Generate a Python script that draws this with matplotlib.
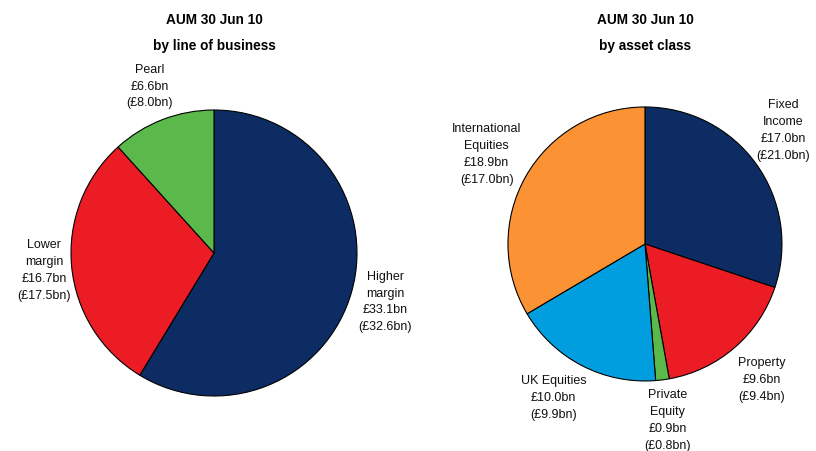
import numpy as np
import matplotlib
matplotlib.use('Agg')
import matplotlib.pyplot as plt

plt.rcParams['font.family'] = ['Liberation Sans', 'DejaVu Sans']

# AUM by line of business (clockwise from 12 o'clock)
business_names = ['Higher\nmargin', 'Lower\nmargin', 'Pearl']
business_now = [33.1, 16.7, 6.6]
business_prev = [32.6, 17.5, 8.0]
business_colors = ['#0c2c63', '#ec1c24', '#5bb84a']
business_dist = [1.245, 1.195, 1.255]

# AUM by asset class
asset_names = ['Fixed\nIncome', 'Property', 'Private\nEquity', 'UK Equities', 'International\nEquities']
asset_now = [17.0, 9.6, 0.9, 10.0, 18.9]
asset_prev = [21.0, 9.4, 0.8, 9.9, 17.0]
asset_colors = ['#0c2c63', '#ec1c24', '#5bb84a', '#009ede', '#fb9334']
asset_dist = [1.31, 1.30, 1.29, 1.30, 1.33]
asset_nudge = [4.0, 0, 0, -3.5, 0]


def draw_pie(ax, names, now, prev, colors, dist, nudge=None):
    wedges, _ = ax.pie(now, colors=colors, startangle=90, counterclock=False,
                       wedgeprops=dict(edgecolor='black', linewidth=0.8))
    if nudge is None:
        nudge = [0] * len(names)
    for w, name, v, p, d, n in zip(wedges, names, now, prev, dist, nudge):
        ang = np.deg2rad((w.theta1 + w.theta2) / 2 + n)
        label = '%s\n£%.1fbn\n(£%.1fbn)' % (name, v, p)
        ax.text(d * np.cos(ang), d * np.sin(ang), label, ha='center', va='center',
                fontsize=9, linespacing=1.55, color='#111111')
    ax.set_xlim(-1, 1)
    ax.set_ylim(-1, 1)
    ax.set_aspect('equal')
    ax.axis('off')


fig = plt.figure(figsize=(8.16, 4.52), dpi=100)
ax1 = fig.add_axes([0.0870, 0.1217, 0.3505, 0.6327])
ax2 = fig.add_axes([0.6225, 0.1549, 0.3358, 0.6062])

draw_pie(ax1, business_names, business_now, business_prev, business_colors, business_dist)
draw_pie(ax2, asset_names, asset_now, asset_prev, asset_colors, asset_dist, asset_nudge)

fig.text(0.2623, 0.956, 'AUM 30 Jun 10', ha='center', va='center', fontsize=9.8, fontweight='bold')
fig.text(0.2623, 0.899, 'by line of business', ha='center', va='center', fontsize=9.8, fontweight='bold')
fig.text(0.7904, 0.956, 'AUM 30 Jun 10', ha='center', va='center', fontsize=9.8, fontweight='bold')
fig.text(0.7904, 0.899, 'by asset class', ha='center', va='center', fontsize=9.8, fontweight='bold')

fig.savefig('out.png', dpi=100)
